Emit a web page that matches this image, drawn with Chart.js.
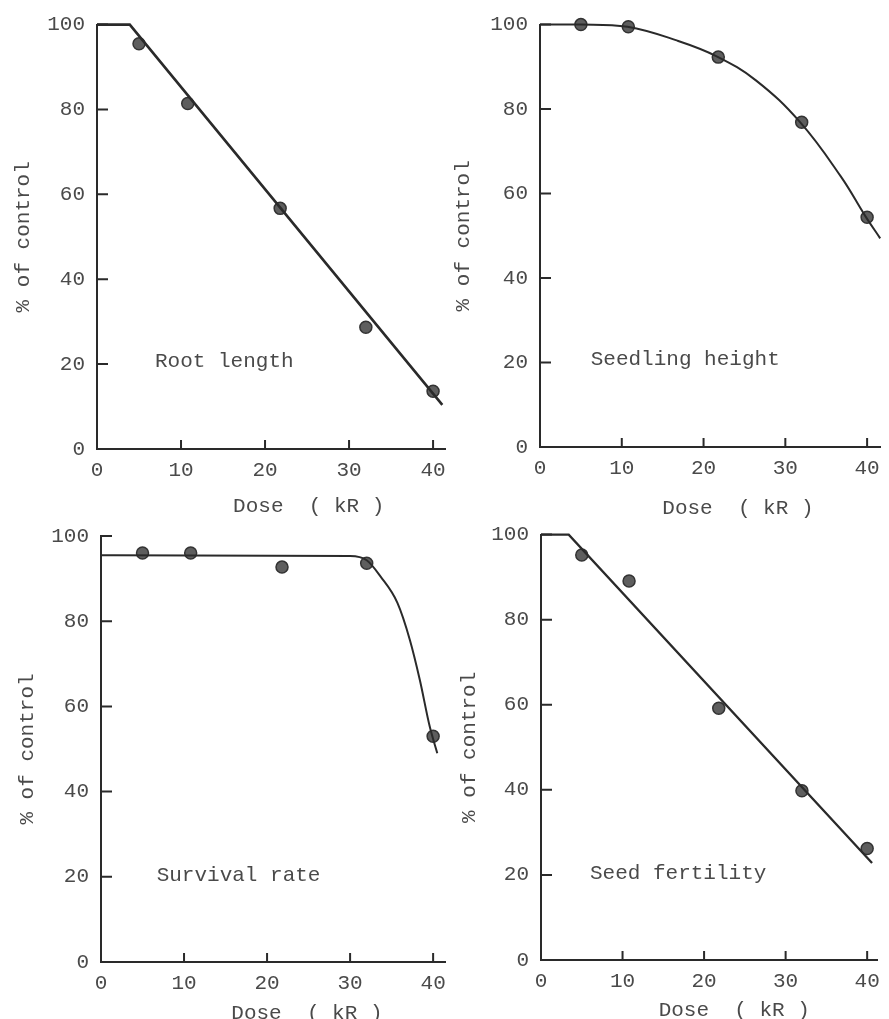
<!DOCTYPE html>
<html>
<head>
<meta charset="utf-8">
<script src="https://cdn.jsdelivr.net/npm/chart.js@4.4.1/dist/chart.umd.min.js"></script>
<style>
  body { margin: 0; background: #fff; }
  #wrap { position: relative; width: 889px; height: 1019px; overflow: hidden; }
  .panel { position: absolute; }
</style>
</head>
<body>
<div id="wrap">
  <div class="panel" style="left:0;top:0;width:455px;height:520px"><canvas id="c1"></canvas></div>
  <div class="panel" style="left:445px;top:0;width:444px;height:520px"><canvas id="c2"></canvas></div>
  <div class="panel" style="left:0;top:510px;width:455px;height:509px"><canvas id="c3"></canvas></div>
  <div class="panel" style="left:445px;top:510px;width:444px;height:509px"><canvas id="c4"></canvas></div>
</div>
<script>
// doses at which measurements were taken (kR)
const dose = [5, 10.8, 21.8, 32, 40];
const xTicks = [0, 10, 20, 30, 40];
const yTicks = [0, 20, 40, 60, 80, 100];

// observed values, % of control
const rootLength = [95.5, 81.4, 56.7, 28.7, 13.6];
const seedlingHeight = [100, 99.5, 92.3, 76.9, 54.4];
const survivalRate = [96, 96, 92.7, 93.6, 53];
const seedFertility = [95.2, 89.1, 59.2, 39.8, 26.2];

// fitted lines / curves
const rootFitX = [0, 3.9, 41.1];
const rootFitY = [100, 100, 10.4];
const heightFitX = [0, 5, 10.7, 16.8, 21.6, 26.4, 31.8, 36.8, 39.8, 41.6];
const heightFitY = [100, 100, 99.5, 96.2, 92.5, 86.8, 76.9, 64, 54.6, 49.4];
const survivalFitX = [0, 30, 32, 33.7, 35.7, 37.2, 38.4, 39.6, 40.5];
const survivalFitY = [95.5, 95.3, 94.3, 90.4, 84.3, 75.6, 66.2, 55.2, 49];
const fertilityFitX = [0, 3.4, 40.6];
const fertilityFitY = [100, 100, 22.8];

const FONT = "'Liberation Mono', 'DejaVu Sans Mono', monospace";
const INK = "#2a2a2a";
const TEXT = "#4a4a4a";

const toPts = (xs, ys) => xs.map((x, i) => ({ x, y: ys[i] }));

// inward tick marks, x title and panel label
const decorations = {
    id: "decorations",
    afterDraw(chart, args, opts) {
        const { ctx, chartArea } = chart;
        const xs = chart.scales.x, ys = chart.scales.y;
        ctx.save();
        ctx.strokeStyle = INK;
        ctx.lineWidth = 2;
        ctx.beginPath();
        yTicks.forEach(v => {
            if (v === 0) return;
            const py = ys.getPixelForValue(v);
            ctx.moveTo(chartArea.left, py);
            ctx.lineTo(chartArea.left + 11, py);
        });
        xTicks.forEach(v => {
            if (v === 0) return;
            const px = xs.getPixelForValue(v);
            ctx.moveTo(px, chartArea.bottom);
            ctx.lineTo(px, chartArea.bottom - 9);
        });
        ctx.stroke();

        ctx.fillStyle = TEXT;
        ctx.font = "21px " + FONT;
        ctx.textBaseline = "middle";
        ctx.textAlign = "left";
        ctx.fillText(opts.label, xs.getPixelForValue(opts.labelX), ys.getPixelForValue(opts.labelY));
        ctx.textAlign = "center";
        ctx.fillText("Dose  ( kR )", xs.getPixelForValue(opts.titleX), chartArea.bottom + opts.titleDy);
        ctx.restore();
    }
};

function makePanel(id, cfg) {
    new Chart(document.getElementById(id), {
        type: "line",
        data: {
            datasets: [
                {
                    data: toPts(cfg.fitX, cfg.fitY),
                    borderColor: INK,
                    borderWidth: cfg.lineWidth,
                    pointRadius: 0,
                    cubicInterpolationMode: cfg.mode,
                    tension: cfg.tension,
                    clip: false
                },
                {
                    data: toPts(dose, cfg.values),
                    showLine: false,
                    pointRadius: 6,
                    pointBackgroundColor: "#5e5e5e",
                    pointBorderColor: "#333",
                    pointBorderWidth: 1.5,
                    clip: false
                }
            ]
        },
        options: {
            responsive: true,
            maintainAspectRatio: false,
            animation: false,
            events: [],
            layout: { padding: { top: cfg.padTop, right: cfg.padRight, left: 0, bottom: 0 } },
            plugins: {
                legend: { display: false },
                tooltip: { enabled: false },
                decorations: { label: cfg.label, labelX: cfg.labelX, labelY: cfg.labelY, titleX: cfg.titleX, titleDy: cfg.titleDy }
            },
            scales: {
                x: {
                    type: "linear",
                    min: 0,
                    max: cfg.xMax,
                    afterBuildTicks: s => { s.ticks = xTicks.map(v => ({ value: v })); },
                    afterFit: s => { s.height = cfg.xAxisH; },
                    grid: { display: true, drawOnChartArea: false, drawTicks: false },
                    border: { display: true, color: INK, width: 2 },
                    ticks: { color: TEXT, font: { family: FONT, size: 21 }, padding: 9, maxRotation: 0 }
                },
                y: {
                    min: 0,
                    max: 100,
                    afterBuildTicks: s => { s.ticks = yTicks.map(v => ({ value: v })); },
                    afterFit: s => { s.width = cfg.yAxisW; },
                    grid: { display: true, drawOnChartArea: false, drawTicks: false },
                    border: { display: true, color: INK, width: 2 },
                    ticks: { color: TEXT, font: { family: FONT, size: 21 }, padding: 12 },
                    title: {
                        display: true,
                        text: "% of control",
                        color: TEXT,
                        font: { family: FONT, size: 21 },
                        padding: { top: cfg.yTitlePad, bottom: 0 }
                    }
                }
            }
        },
        plugins: [decorations]
    });
}

makePanel("c1", {
    values: rootLength, fitX: rootFitX, fitY: rootFitY, mode: "default", tension: 0, lineWidth: 2.6,
    label: "Root length", labelX: 6.9, labelY: 20.7, titleX: 25.2, titleDy: 57,
    xMax: 41.5, yAxisW: 97, xAxisH: 71, padTop: 24, padRight: 9, yTitlePad: 11
});
makePanel("c2", {
    values: seedlingHeight, fitX: heightFitX, fitY: heightFitY, mode: "default", tension: 0.4, lineWidth: 2,
    label: "Seedling height", labelX: 6.2, labelY: 20.7, titleX: 24.2, titleDy: 61,
    xMax: 41.6, yAxisW: 95, xAxisH: 73, padTop: 22, padRight: 2, yTitlePad: 6
});
makePanel("c3", {
    values: survivalRate, fitX: survivalFitX, fitY: survivalFitY, mode: "monotone", tension: 0, lineWidth: 2,
    label: "Survival rate", labelX: 6.7, labelY: 20.4, titleX: 24.8, titleDy: 51,
    xMax: 41.5, yAxisW: 101, xAxisH: 57, padTop: 26, padRight: 6, yTitlePad: 15
});
makePanel("c4", {
    values: seedFertility, fitX: fertilityFitX, fitY: fertilityFitY, mode: "default", tension: 0, lineWidth: 2.3,
    label: "Seed fertility", labelX: 6.0, labelY: 20.3, titleX: 23.7, titleDy: 50,
    xMax: 41.3, yAxisW: 96, xAxisH: 59, padTop: 22, padRight: 0, yTitlePad: 12
});
</script>
</body>
</html>
